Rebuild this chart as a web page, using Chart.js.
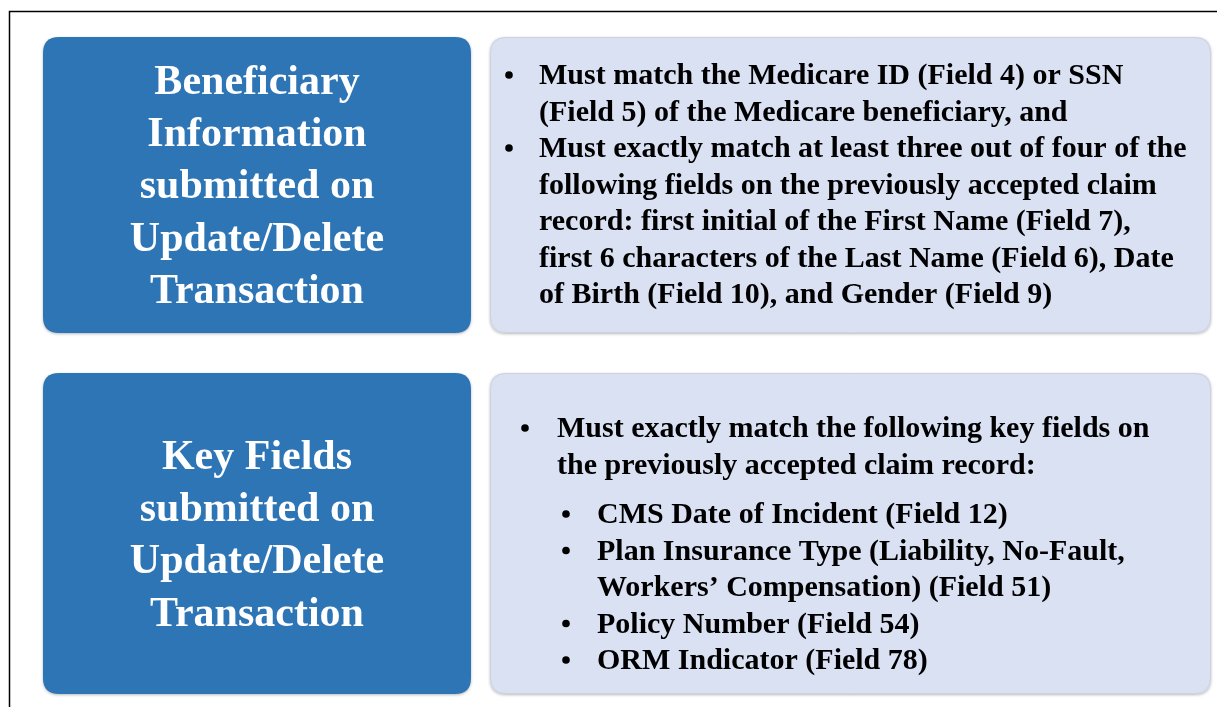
<!DOCTYPE html>
<html>
<head>
<meta charset="utf-8">
<script src="https://cdn.jsdelivr.net/npm/chart.js@4.4.1/dist/chart.umd.min.js"></script>
<style>
html,body{margin:0;padding:0;background:#fff;}
#wrap{width:1217px;height:707px;}
</style>
</head>
<body>
<div id="wrap"><canvas id="c" width="1217" height="707"></canvas></div>
<script>
// ---- content ----
const rowTitles = [
  ["Beneficiary", "Information", "submitted on", "Update/Delete", "Transaction"],
  ["Key Fields", "submitted on", "Update/Delete", "Transaction"]
];
const row1Bullets = [
  ["Must match the Medicare ID (Field 4) or SSN", "(Field 5) of the Medicare beneficiary, and"],
  ["Must exactly match at least three out of four of the",
   "following fields on the previously accepted claim",
   "record: first initial of the First Name (Field 7),",
   "first 6 characters of the Last Name (Field 6), Date",
   "of Birth (Field 10), and Gender (Field 9)"]
];
const row2Lead = ["Must exactly match the following key fields on", "the previously accepted claim record:"];
const row2SubBullets = [
  ["CMS Date of Incident (Field 12)"],
  ["Plan Insurance Type (Liability, No-Fault,", "Workers\u2019 Compensation) (Field 51)"],
  ["Policy Number (Field 54)"],
  ["ORM Indicator (Field 78)"]
];

const SERIF = '"Liberation Serif", "Times New Roman", serif';

function roundRect(ctx, x, y, w, h, r) {
  ctx.beginPath();
  ctx.moveTo(x + r, y);
  ctx.lineTo(x + w - r, y);
  ctx.quadraticCurveTo(x + w, y, x + w, y + r);
  ctx.lineTo(x + w, y + h - r);
  ctx.quadraticCurveTo(x + w, y + h, x + w - r, y + h);
  ctx.lineTo(x + r, y + h);
  ctx.quadraticCurveTo(x, y + h, x, y + h - r);
  ctx.lineTo(x, y + r);
  ctx.quadraticCurveTo(x, y, x + r, y);
  ctx.closePath();
}

function drawBox(ctx, x, y, w, h, fill, stroke) {
  ctx.save();
  ctx.shadowColor = 'rgba(0,0,0,0.28)';
  ctx.shadowBlur = 3;
  ctx.shadowOffsetX = 0;
  ctx.shadowOffsetY = 1;
  roundRect(ctx, x, y, w, h, 16);
  ctx.fillStyle = fill;
  ctx.fill();
  ctx.restore();
  if (stroke) {
    ctx.save();
    roundRect(ctx, x + 0.5, y + 0.5, w - 1, h - 1, 16);
    ctx.strokeStyle = stroke;
    ctx.lineWidth = 1;
    ctx.stroke();
    ctx.restore();
  }
}

function bullet(ctx, cx, cy) {
  ctx.beginPath();
  ctx.arc(cx, cy, 3.8, 0, Math.PI * 2);
  ctx.fillStyle = '#000';
  ctx.fill();
}

const diagramPlugin = {
  id: 'diagram',
  afterDraw(chart) {
    const ctx = chart.ctx;
    ctx.save();
    // outer frame
    ctx.strokeStyle = '#000';
    ctx.lineWidth = 1.5;
    ctx.beginPath();
    ctx.moveTo(9.5, 707);
    ctx.lineTo(9.5, 11.5);
    ctx.lineTo(1217, 11.5);
    ctx.stroke();

    const rows = [
      { top: 37, bottom: 333 },
      { top: 373, bottom: 694 }
    ];
    const leftX = 43, leftW = 428, rightX = 490, rightW = 721;
    const blue = '#2E75B6', lav = '#DAE1F3';

    rows.forEach(r => {
      drawBox(ctx, leftX, r.top, leftW, r.bottom - r.top, blue, null);
      drawBox(ctx, rightX, r.top, rightW, r.bottom - r.top, lav, '#CDD2DC');
    });

    // left titles
    ctx.fillStyle = '#fff';
    ctx.font = 'bold 42px ' + SERIF;
    ctx.textAlign = 'center';
    ctx.textBaseline = 'alphabetic';
    const titleBase = [94, 469];
    rowTitles.forEach((lines, i) => {
      lines.forEach((t, j) => {
        ctx.fillText(t, leftX + leftW / 2, titleBase[i] + j * 52.2);
      });
    });

    // right text row 1
    ctx.textAlign = 'left';
    ctx.font = 'bold 30px ' + SERIF;
    ctx.fillStyle = '#000';
    let y = 84;
    const step = 36.5;
    row1Bullets.forEach(lines => {
      bullet(ctx, 509, y - 9);
      ctx.fillStyle = '#000';
      lines.forEach(t => {
        ctx.fillText(t, 539, y);
        y += step;
      });
    });

    // right text row 2
    y = 437;
    bullet(ctx, 525, y - 9);
    row2Lead.forEach(t => {
      ctx.fillStyle = '#000';
      ctx.fillText(t, 557, y);
      y += step;
    });
    y = 523;
    row2SubBullets.forEach(lines => {
      bullet(ctx, 566, y - 9);
      ctx.fillStyle = '#000';
      lines.forEach(t => {
        ctx.fillText(t, 597, y);
        y += step;
      });
    });
    ctx.restore();
  }
};

new Chart(document.getElementById('c'), {
  type: 'bar',
  data: { labels: rowTitles.map(r => r.join(' ')), datasets: [] },
  options: {
    responsive: false,
    animation: false,
    events: [],
    layout: { padding: 0 },
    plugins: { legend: { display: false }, tooltip: { enabled: false }, title: { display: false } },
    scales: { x: { display: false }, y: { display: false } }
  },
  plugins: [diagramPlugin]
});
</script>
</body>
</html>
